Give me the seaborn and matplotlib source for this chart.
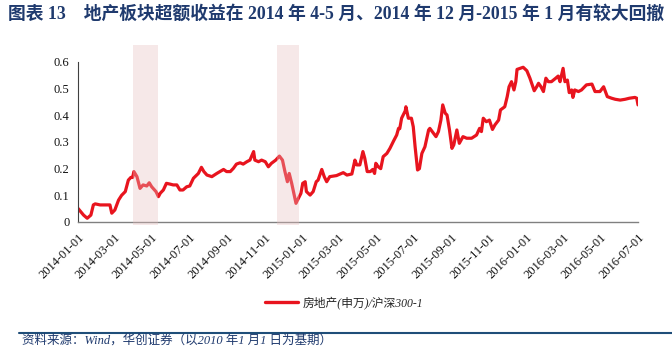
import numpy as np
import pandas as pd
import matplotlib
matplotlib.use("Agg")
import matplotlib.pyplot as plt
import matplotlib.dates as mdates
import seaborn as sns
from matplotlib.lines import Line2D

# ---- data (day offset from 2014-01-01, excess return) ----
start_date = "2014-01-01"
end_date = "2016-07-01"
day_offset = [
    0, 9, 15, 21, 25, 28, 36, 47, 52, 55,
    60, 66, 71, 77, 82, 86, 89, 91, 96, 101,
    106, 112, 116, 120, 127, 131, 134, 139, 144, 150,
    155, 161, 166, 171, 177, 182, 188, 196, 201, 205,
    210, 218, 226, 231, 237, 242, 248, 253, 258, 264,
    269, 275, 280, 286, 288, 294, 299, 305, 310, 315,
    322, 328, 333, 337, 341, 344, 348, 352, 355, 359,
    363, 366, 370, 372, 378, 383, 388, 391, 397, 401,
    405, 410, 421, 432, 438, 446, 451, 454, 459, 464,
    467, 471, 476, 480, 483, 485, 489, 493, 497, 503,
    508, 514, 519, 522, 524, 527, 533, 534, 538, 543,
    546, 549, 553, 556, 560, 565, 571, 573, 579, 583,
    587, 591, 594, 598, 601, 605, 609, 612, 617, 621,
    627, 633, 641, 649, 654, 657, 660, 665, 670, 675,
    679, 685, 688, 695, 699, 702, 706, 710, 713, 715,
    720, 725, 731, 736, 743, 747, 750, 754, 758, 762,
    766, 771, 778, 782, 785, 790, 793, 797, 800, 804,
    806, 809, 815, 820, 828, 837, 842, 850, 856, 862,
    869, 875, 883, 891, 898, 907, 910, 912,
]
excess = [
    .051, .026, .014, .026, .064, .068, .064, .064, .064, .033,
    .045, .082, .100, .114, .157, .167, .167, .189, .170, .126,
    .139, .135, .147, .132, .114, .095, .108, .120, .145, .142,
    .139, .139, .120, .120, .132, .135, .164, .182, .205, .189,
    .176, .170, .182, .189, .197, .189, .189, .201, .217, .222,
    .217, .226, .232, .264, .232, .226, .232, .226, .207, .220,
    .232, .247, .232, .189, .151, .182, .145, .101, .070, .089,
    .107, .145, .151, .114, .101, .114, .151, .157, .197, .170,
    .151, .170, .174, .185, .176, .180, .232, .214, .214, .264,
    .239, .189, .189, .197, .182, .220, .207, .200, .245, .257,
    .276, .304, .326, .351, .350, .389, .417, .432, .389, .389,
    .357, .282, .195, .200, .257, .282, .345, .351, .332, .320,
    .339, .382, .439, .408, .401, .345, .276, .289, .345, .295,
    .320, .314, .314, .326, .351, .339, .389, .376, .382, .347,
    .364, .382, .420, .432, .470, .507, .526, .495, .526, .572,
    .576, .580, .567, .539, .492, .507, .520, .507, .489, .539,
    .526, .526, .539, .547, .526, .576, .526, .532, .485, .495,
    .467, .495, .489, .495, .514, .517, .489, .489, .507, .470,
    .464, .460, .457, .460, .464, .467, .464, .439,
]
shade_periods = [("2014-03-31", "2014-05-11"), ("2014-11-21", "2014-12-27")]
y_ticks = [0, 0.1, 0.2, 0.3, 0.4, 0.5, 0.6]
y_tick_labels = ["0", "0.1", "0.2", "0.3", "0.4", "0.5", "0.6"]
series_name = "房地产(申万)/沪深300-1"
title_text = "图表 13    地产板块超额收益在 2014 年 4-5 月、2014 年 12 月-2015 年 1 月有较大回撤"
source_text = "资料来源：Wind，华创证券（以2010 年1 月1 日为基期）"

df = pd.DataFrame({
    "date": pd.Timestamp(start_date) + pd.to_timedelta(day_offset, unit="D"),
    "value": excess,
    "series": series_name,
})

sns.set_theme(style="white")
plt.rcParams["font.family"] = ["Liberation Serif", "Noto Sans CJK SC", "DejaVu Sans"]

fig = plt.figure(figsize=(6.72, 3.48), dpi=100)
ax = fig.add_axes([78 / 672, 1 - 222 / 348, 560 / 672, (222 - 44.6) / 348])

sns.lineplot(data=df, x="date", y="value", hue="series", palette=["#E8141E"],
             linewidth=2.3, ax=ax, legend=False, zorder=2)

for s, e in shade_periods:
    ax.axvspan(pd.Timestamp(s), pd.Timestamp(e), ymin=-0.015, ymax=1.0,
               color="#E6BFBF", alpha=0.35, lw=0, zorder=3, clip_on=False)

ax.set_xlim(pd.Timestamp(start_date), pd.Timestamp(end_date))
ax.set_ylim(0, 0.665)
ax.set_yticks(y_ticks)
ax.set_yticklabels(y_tick_labels)
ax.xaxis.set_major_locator(mdates.MonthLocator(bymonth=[1, 3, 5, 7, 9, 11]))
ax.xaxis.set_major_formatter(mdates.DateFormatter("%Y-%m-%d"))
for lab in ax.get_xticklabels():
    lab.set_rotation(45)
    lab.set_ha("right")
    lab.set_rotation_mode("anchor")

ax.set_xlabel("")
ax.set_ylabel("")
for side in ["top", "right"]:
    ax.spines[side].set_visible(False)
ax.spines["left"].set_bounds(0, 0.6)
ax.spines["left"].set_color("#404040")
ax.spines["bottom"].set_color("#808080")
ax.spines["left"].set_linewidth(0.8)
ax.spines["bottom"].set_linewidth(1.0)
ax.tick_params(axis="both", which="major", direction="out", length=4, width=0.8,
               colors="#404040", labelsize=9, labelcolor="#111111", pad=2)
ax.tick_params(axis="x", pad=3)

# legend
handle = Line2D([0], [0], color="#E8141E", lw=2.4)
fig.legend([handle], [series_name], loc="center", bbox_to_anchor=(344 / 672, 1 - 303 / 348),
           frameon=False, handlelength=2.8, handletextpad=0.4,
           prop={"family": ["Liberation Serif", "Noto Sans CJK SC"], "size": 8.5, "style": "italic"})

# title
fig.text(8 / 672, 1 - 14 / 348, title_text, ha="left", va="center", fontsize=12.8,
         fontweight="bold", color="#1F3A6E",
         family=["Liberation Serif", "Noto Sans CJK SC"])

# footer rule and source
fig.add_artist(Line2D([19 / 672, 1.0], [1 - 333 / 348] * 2, color="#1F4E79", lw=1.5,
                      transform=fig.transFigure))
fig.text(22 / 672, 1 - 347 / 348, source_text, ha="left", va="bottom", fontsize=9,
         color="#1F3A6E", style="italic", family=["Liberation Serif", "Noto Sans CJK SC"])

fig.savefig("out.png", dpi=100)
